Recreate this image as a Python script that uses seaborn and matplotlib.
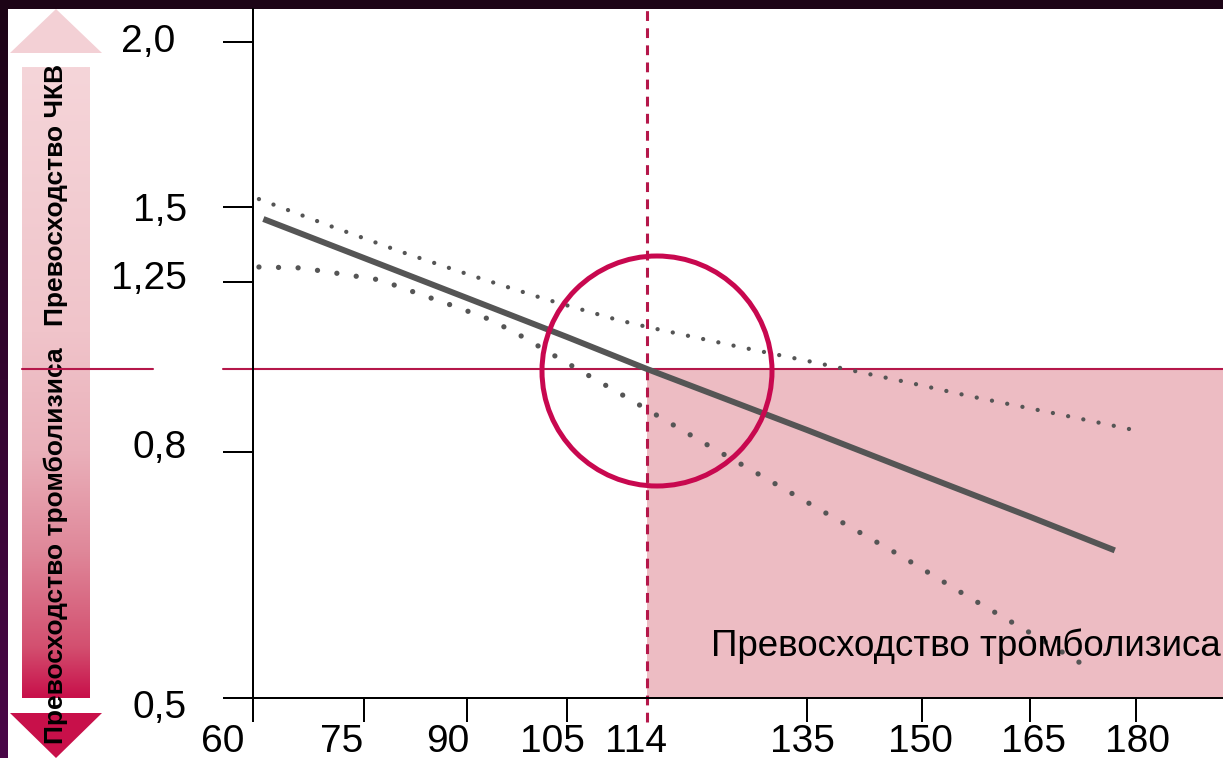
import numpy as np
import pandas as pd
import seaborn as sns
import matplotlib
matplotlib.use('Agg')
import matplotlib.pyplot as plt
from matplotlib.patches import Polygon, Circle, Rectangle
from matplotlib.transforms import ScaledTranslation
from matplotlib.colors import LinearSegmentedColormap

# --- data (delay, min  vs  relative risk) ---
SOLID_X = [61.4, 75, 90, 105, 114, 135, 150, 165, 177]
SOLID_Y = [1.46, 1.33, 1.204, 1.092, 1.0, 0.853, 0.772, 0.721, 0.68]

UPPER_X = [60.8, 70.4, 80.5, 90.9, 101.7, 110.7, 114, 125.6, 135.1, 144.8, 148.6, 156.5, 168.8, 181.1]
UPPER_Y = [1.524, 1.437, 1.35, 1.27, 1.201, 1.141, 1.121, 1.066, 1.023, 0.981, 0.966, 0.935, 0.892, 0.848]

LOWER_X = [60.8, 66.5, 71.9, 77.3, 83.0, 88.5, 93.6, 98.4, 103.5, 107.7, 111.6, 115.7,
           122.4, 129.2, 138.3, 147.3, 156.5, 166.1, 173.8]
LOWER_Y = [1.30, 1.297, 1.277, 1.257, 1.216, 1.178, 1.141, 1.092, 1.034, 0.981, 0.933, 0.884,
           0.812, 0.770, 0.721, 0.673, 0.623, 0.574, 0.534]

CUTOFF = 114
HR_NULL = 1.0

X_TICKS = [60, 75, 90, 105, 114, 135, 150, 165, 180]
X_LABELS = ['60', '75', '90', '105', '114', '135', '150', '165', '180']
Y_TICKS = [0.5, 0.8, 1.25, 1.5, 2.0]
Y_LABELS = ['0,5', '0,8', '1,25', '1,5', '2,0']

TEXT_PCI = 'Превосходство ЧКВ'
TEXT_LYSIS = 'Превосходство тромболизиса'

# the original axes are hand-drawn: tick spacing is not uniform
X_KNOTS = [60, 75, 90, 105, 114, 135, 150, 165, 180]
X_KNOT_POS = [253, 364, 467, 567, 647, 807, 922, 1030, 1136]
Y_KNOTS = [0.5, 0.8, 1.0, 1.25, 1.5, 2.0]
Y_KNOT_POS = [60, 306, 389, 476, 551, 716]

W, H = 1223, 758
DARK = '#555555'
RED = '#c8084f'
RED_LINE = '#b5174a'
PINK = '#edbcc3'


def stretch(v, src, dst):
    v = np.asarray(v, dtype=float)
    flat = np.atleast_1d(v).ravel()
    out = np.interp(flat, src, dst)
    lo = flat < src[0]
    hi = flat > src[-1]
    out[lo] = dst[0] + (flat[lo] - src[0]) * (dst[1] - dst[0]) / (src[1] - src[0])
    out[hi] = dst[-1] + (flat[hi] - src[-1]) * (dst[-1] - dst[-2]) / (src[-1] - src[-2])
    return out.reshape(v.shape)


sns.set_theme(style='white')
plt.rcParams['font.family'] = ['Liberation Sans', 'DejaVu Sans']

fig = plt.figure(figsize=(W / 100, H / 100), dpi=100, facecolor='white')

# background layer in pixel coordinates: frame + arrow
bg = fig.add_axes([0, 0, 1, 1], zorder=0)
bar_cmap = LinearSegmentedColormap.from_list('bar', [
    (0, '#f5d5d9'), (0.42, '#f0c4ca'), (0.61, '#eab0ba'),
    (0.77, '#df8799'), (0.92, '#d35070'), (1, '#c8104a')])
frame_cmap = LinearSegmentedColormap.from_list('frame', ['#1c0416', '#4a0848'])
grad = np.linspace(0, 1, 256).reshape(-1, 1)
bg.imshow(grad, cmap=bar_cmap, extent=[22, 90, 698, 67], aspect='auto', interpolation='bilinear')
bg.imshow(grad, cmap=frame_cmap, extent=[0, 8, H, 0], aspect='auto', interpolation='bilinear')
bg.add_patch(Rectangle((0, 0), W, 9, color='#1c0416', lw=0))
bg.add_patch(Polygon([(10, 53), (102, 53), (56, 9)], closed=True, color='#f3d0d5', lw=0))
bg.add_patch(Polygon([(10, 713), (102, 713), (56, H)], closed=True, color='#c8104a', lw=0))
bg.text(56, 195, TEXT_PCI, rotation=90, ha='center', va='center', fontsize=19,
        fontweight='bold', color='black')
bg.text(56, 546, TEXT_LYSIS, rotation=90, ha='center', va='center', fontsize=19,
        fontweight='bold', color='black')
bg.set_xlim(0, W)
bg.set_ylim(H, 0)
bg.axis('off')

# main chart
ax = fig.add_axes([253 / W, 60 / H, (W - 253) / W, (749 - 60) / H], zorder=1)
ax.set_facecolor('none')
ax.set_xscale('function', functions=(lambda v: stretch(v, X_KNOTS, X_KNOT_POS),
                                     lambda p: stretch(p, X_KNOT_POS, X_KNOTS)))
ax.set_yscale('function', functions=(lambda v: stretch(v, Y_KNOTS, Y_KNOT_POS),
                                     lambda p: stretch(p, Y_KNOT_POS, Y_KNOTS)))
x_hi = float(stretch(W, X_KNOT_POS, X_KNOTS))
ax.set_xlim(60, x_hi)
ax.set_ylim(0.5, 2.1)

ax.fill_between([CUTOFF, x_hi], 0.5, HR_NULL, color=PINK, lw=0, zorder=0)

df_solid = pd.DataFrame({'x': SOLID_X, 'y': SOLID_Y})
df_up = pd.DataFrame({'x': UPPER_X, 'y': UPPER_Y})
df_low = pd.DataFrame({'x': LOWER_X, 'y': LOWER_Y})

sns.lineplot(data=df_up, x='x', y='y', ax=ax, color=DARK, lw=3.1, zorder=3)
ax.lines[-1].set_linestyle((0, (0.01, 3.6)))
ax.lines[-1].set_dash_capstyle('round')
sns.lineplot(data=df_low, x='x', y='y', ax=ax, color=DARK, lw=3.8, zorder=3)
ax.lines[-1].set_linestyle((0, (0.01, 3.7)))
ax.lines[-1].set_dash_capstyle('round')
sns.lineplot(data=df_solid, x='x', y='y', ax=ax, color=DARK, lw=4.3, zorder=4)
ax.lines[-1].set_solid_capstyle('butt')

# reference lines
ax.axhline(HR_NULL, xmin=-30 / 970, xmax=1, color=RED_LINE, lw=1.5, clip_on=False, zorder=2)
ax.axhline(HR_NULL, xmin=(22 - 253) / 970, xmax=(153 - 253) / 970, color=RED_LINE, lw=1.5,
           clip_on=False, zorder=2)
ax.axvline(CUTOFF, ymin=-24 / 689, ymax=1, color=RED_LINE, lw=2.2, ls=(0, (3.2, 2.4)),
           clip_on=False, zorder=2)

ring_tr = fig.dpi_scale_trans + ScaledTranslation(CUTOFF, HR_NULL, ax.transData)
ax.add_patch(Circle((0.1, -0.02), 1.15, transform=ring_tr, fill=False, ec=RED, lw=3.6,
                    clip_on=False, zorder=5))

# axes styling
for side in ['top', 'right']:
    ax.spines[side].set_visible(False)
for side in ['left', 'bottom']:
    ax.spines[side].set_color('black')
    ax.spines[side].set_linewidth(1.44)

ax.set_xticks(X_TICKS)
ax.set_xticklabels(X_LABELS)
ax.set_yticks(Y_TICKS)
ax.set_yticklabels(Y_LABELS)
ax.minorticks_off()
ax.tick_params(axis='x', direction='out', length=17.3, width=1.44, color='black', pad=1.5,
               labelsize=28, labelcolor='black', bottom=True)
ax.tick_params(axis='y', direction='out', length=21.6, width=1.44, color='black', pad=26,
               labelsize=28, labelcolor='black', left=True)
ax.xaxis.get_major_ticks()[X_TICKS.index(CUTOFF)].tick1line.set_visible(False)
ax.set_xlabel('')
ax.set_ylabel('')

# small shifts so labels sit where the original puts them (px)
x_shift = [-30, -22, -19, -15, -11, -5, -2, 3, 2]
for lab, dx in zip(ax.get_xticklabels(), x_shift):
    lab.set_transform(lab.get_transform() + ScaledTranslation(dx / 100, 0, fig.dpi_scale_trans))
y_shift = [(0, -6), (0, 8), (0, 7), (0, 0), (-12, 4)]
for lab, (dx, dy) in zip(ax.get_yticklabels(), y_shift):
    lab.set_transform(lab.get_transform() + ScaledTranslation(dx / 100, dy / 100, fig.dpi_scale_trans))

fig.text(1221 / W, 1 - 656 / H, TEXT_LYSIS, ha='right', va='baseline', fontsize=26.5,
         color='black', zorder=6)

fig.savefig('out.png', dpi=100, facecolor='white')
